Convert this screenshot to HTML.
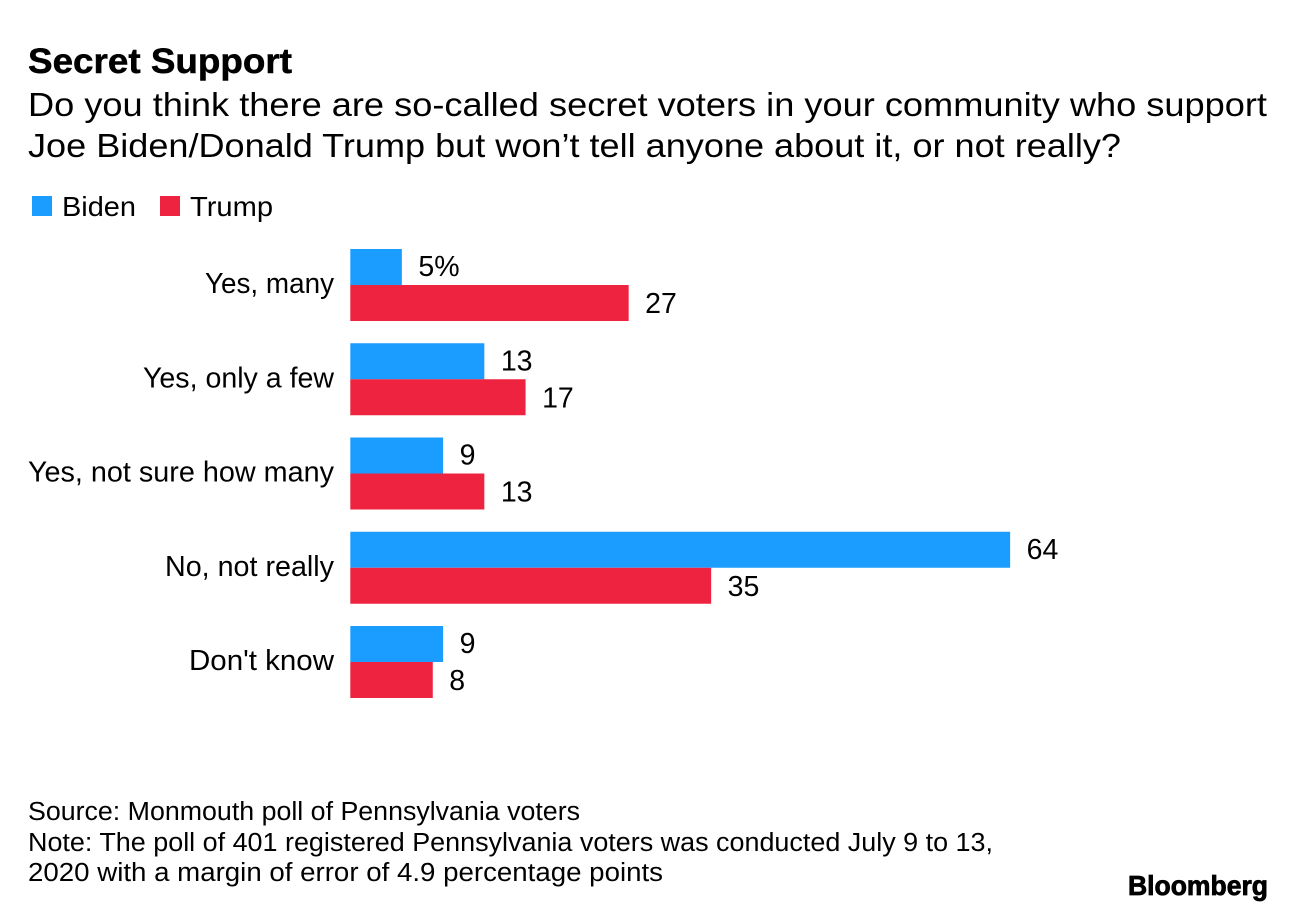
<!DOCTYPE html>
<html>
<head>
<meta charset="utf-8">
<style>
html,body{margin:0;padding:0;background:#fff;}
#chart{display:block;}
text{font-family:"Liberation Sans",sans-serif;fill:#000;}
</style>
</head>
<body>
<svg id="chart" width="1296" height="912" viewBox="0 0 1296 912" xmlns="http://www.w3.org/2000/svg">
<rect width="1296" height="912" fill="#fff"/>
<text x="28" y="73" font-size="35" font-weight="700" stroke="#000" stroke-width="0.5" textLength="264" lengthAdjust="spacingAndGlyphs">Secret Support</text>
<text x="28" y="116" font-size="33" textLength="1239" lengthAdjust="spacingAndGlyphs">Do you think there are so-called secret voters in your community who support</text>
<text x="28" y="157" font-size="33" textLength="1093" lengthAdjust="spacingAndGlyphs">Joe Biden/Donald Trump but won’t tell anyone about it, or not really?</text>
<rect x="32" y="196" width="20" height="20" fill="#1b9cff"/>
<text x="62" y="216" font-size="28" textLength="74" lengthAdjust="spacingAndGlyphs">Biden</text>
<rect x="160" y="196" width="20" height="20" fill="#ee2340"/>
<text x="190" y="216" font-size="28" textLength="83" lengthAdjust="spacingAndGlyphs">Trump</text>
<g id="plot"></g>
<text x="28" y="820" font-size="25.5" textLength="552" lengthAdjust="spacingAndGlyphs">Source: Monmouth poll of Pennsylvania voters</text>
<text x="28" y="851" font-size="25.5" textLength="965" lengthAdjust="spacingAndGlyphs">Note: The poll of 401 registered Pennsylvania voters was conducted July 9 to 13,</text>
<text x="28" y="881" font-size="25.5" textLength="635" lengthAdjust="spacingAndGlyphs">2020 with a margin of error of 4.9 percentage points</text>
<text x="1128" y="895" font-size="28" font-weight="700" stroke="#000" stroke-width="0.8" textLength="140" lengthAdjust="spacingAndGlyphs">Bloomberg</text>
</svg>
<script>
var categories = ["Yes, many", "Yes, only a few", "Yes, not sure how many", "No, not really", "Don't know"];
var bidenValues = [5, 13, 9, 64, 9];
var trumpValues = [27, 17, 13, 35, 8];
var bidenLabels = ["5%", "13", "9", "64", "9"];
var trumpLabels = ["27", "17", "13", "35", "8"];

function xScale(v) { return 350.3 + v * 10.31; }
function yBand(i) { return 249 + i * 94.25; }

var NS = "http://www.w3.org/2000/svg";
var plot = document.getElementById("plot");

/* typography only: fits the substitute font to the reference's label widths */
var labelFit = {"Yes, many": 129, "Yes, only a few": 191, "Yes, not sure how many": 306, "No, not really": 169, "Don't know": 145};

function addBar(i, value, offset, color, name) {
  var r = document.createElementNS(NS, "rect");
  r.setAttribute("x", xScale(0));
  r.setAttribute("y", yBand(i) + offset);
  r.setAttribute("width", xScale(value) - xScale(0));
  r.setAttribute("height", 36);
  r.setAttribute("fill", color);
  
  
  plot.appendChild(r);
}

function addText(x, y, str, anchor, name, fit) {
  var t = document.createElementNS(NS, "text");
  t.setAttribute("x", x);
  t.setAttribute("y", y);
  t.setAttribute("font-size", "28.5");
  t.setAttribute("text-anchor", anchor);
  if (fit) {
    t.setAttribute("textLength", fit);
    t.setAttribute("lengthAdjust", "spacingAndGlyphs");
  }
  t.textContent = str;
  
  
  plot.appendChild(t);
}

for (var i = 0; i < categories.length; i++) {
  addBar(i, bidenValues[i], 0, "#1b9cff", "bar-biden");
  addBar(i, trumpValues[i], 36, "#ee2340", "bar-trump");
  addText(334, yBand(i) + 44, categories[i], "end", "category-label", labelFit[categories[i]]);
  addText(xScale(bidenValues[i]) + 16.5, yBand(i) + 27, bidenLabels[i], "start", "value-label-biden");
  addText(xScale(trumpValues[i]) + 16.5, yBand(i) + 64, trumpLabels[i], "start", "value-label-trump");
}
</script>
</body>
</html>
